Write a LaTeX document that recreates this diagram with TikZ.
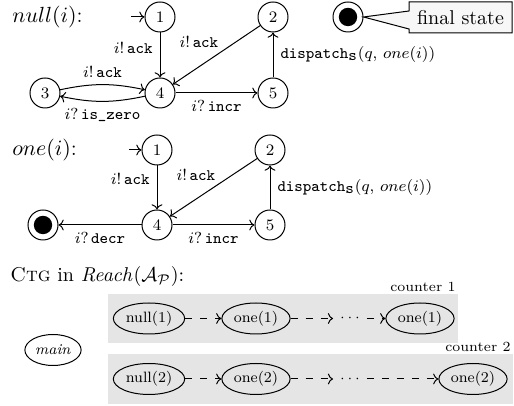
\documentclass[tikz,border=0pt]{standalone}
\usetikzlibrary{shapes.geometric,shapes.callouts,arrows.meta}
\begin{document}
\begin{tikzpicture}[x=0.5pt,y=0.5pt,
  >={To[length=2.6pt,width=5.4pt]},
  state/.style={circle,draw,line width=0.5pt,minimum size=15pt,inner sep=0pt,font=\footnotesize},
  accepting/.style={circle,draw,line width=0.5pt,minimum size=15pt,inner sep=0pt,
    path picture={\fill (path picture bounding box.center) circle (4.6pt);}},
  trans/.style={->,line width=0.5pt},
  lbl/.style={font=\footnotesize,inner sep=3.5pt},
  heading/.style={anchor=west,inner sep=0pt,font=\fontsize{11}{13}\selectfont},
  proc/.style={ellipse,draw,line width=0.5pt,minimum height=15.5pt,inner sep=1pt,font=\fontsize{7.5}{9}\selectfont},
  spawn/.style={->,line width=0.5pt,dash pattern=on 3.5pt off 4pt},
  panel/.style={fill=black!10,draw=none,inner sep=0pt,outer sep=0pt,anchor=south west},
  tag/.style={font=\scriptsize,anchor=south east,inner sep=1pt}
]
\useasboundingbox (0,0) rectangle (514,406);

% automaton for null(i)
\node[heading] (hnull) at (12,389) {$null(i)$:};
\node[state] (n1) at (160,389) {1};
\node[state] (n2) at (273,389) {2};
\node[state] (n3) at (45,313) {3};
\node[state] (n4) at (160,313) {4};
\node[state] (n5) at (273,313) {5};
\coordinate (i1) at (131,389);

\draw[trans] (i1) -- (n1);
\draw[trans] (n1) -- node[lbl,left,pos=0.35] {$i!$\,\texttt{ack}} (n4);
\draw[trans] (n2) -- node[lbl,above left,pos=0.44,inner sep=1.5pt] {$i!$\,\texttt{ack}} (n4);
\draw[trans] (n3) to[bend left=12] node[lbl,above] {$i!$\,\texttt{ack}} (n4);
\draw[trans] (n4) to[bend left=12] node[lbl,below] {$i?$\,\texttt{is\_zero}} (n3);
\draw[trans] (n4) -- node[lbl,below] {$i?$\,\texttt{incr}} (n5);
\draw[trans] (n5) -- node[lbl,right] {\texttt{dispatch}$_{\texttt{s}}(q,\,one(i))$} (n2);

% legend for final states
\node[accepting] (fs) at (348,389) {};
\node[rectangle callout,draw,fill=black!3,line width=0.5pt,inner sep=0pt,
      minimum width=51.5pt,minimum height=15.5pt,
      callout absolute pointer={(fs.east)},callout pointer width=9pt]
      (note) at (460.5,388.5) {final state};

% automaton for one(i)
\node[heading] (hone) at (12,256) {$one(i)$:};
\node[state] (o1) at (157,256) {1};
\node[state] (o2) at (270,256) {2};
\node[state] (o4) at (157,181) {4};
\node[state] (o5) at (270,181) {5};
\node[accepting] (of) at (43,181) {};
\coordinate (i2) at (129,256);

\draw[trans] (i2) -- (o1);
\draw[trans] (o1) -- node[lbl,left,pos=0.31] {$i!$\,\texttt{ack}} (o4);
\draw[trans] (o2) -- node[lbl,above left,pos=0.44,inner sep=1.5pt] {$i!$\,\texttt{ack}} (o4);
\draw[trans] (o4) -- node[lbl,below] {$i?$\,\texttt{decr}} (of);
\draw[trans] (o4) -- node[lbl,below] {$i?$\,\texttt{incr}} (o5);
\draw[trans] (o5) -- node[lbl,right] {\texttt{dispatch}$_{\texttt{s}}(q,\,one(i))$} (o2);

% control-thread graph
\node[anchor=west,inner sep=0pt] (hctg) at (10,129) {\textsc{Ctg} in $\mathit{Reach}(\mathcal{A}_{\mathcal{P}})$:};

\node[panel,minimum width=175pt,minimum height=24.5pt] (box1) at (108,63) {};
\node[panel,minimum width=202.5pt,minimum height=25pt] (box2) at (108,2) {};
\node[tag] (c1) at (box1.north east) {counter 1};
\node[tag] (c2) at (box2.north east) {counter 2};

\node[proc,minimum width=27pt] (main) at (53,56) {\textit{main}};

\node[proc] (p1) at (149,87.5) {null(1)};
\node[proc] (q1) at (256,87.5) {one(1)};
\node[font=\scriptsize] (d1) at (350,87.5) {$\cdots$};
\node[proc] (r1) at (420,87.5) {one(1)};
\draw[spawn] (p1) -- (q1);
\draw[spawn] (q1) -- (d1);
\draw[spawn] (d1) -- (r1);

\node[proc] (p2) at (149,27) {null(2)};
\node[proc] (q2) at (256,27) {one(2)};
\node[font=\scriptsize] (d2) at (350,27) {$\cdots$};
\node[proc] (r2) at (473,27) {one(2)};
\draw[spawn] (p2) -- (q2);
\draw[spawn] (q2) -- (d2);
\draw[spawn] (d2) -- (r2);
\end{tikzpicture}
\end{document}
